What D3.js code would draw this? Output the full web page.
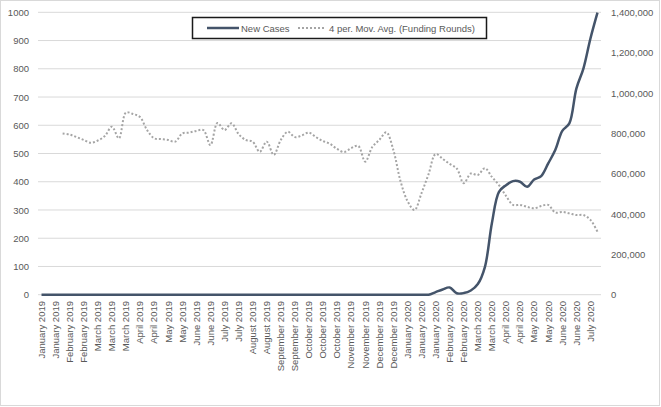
<!DOCTYPE html>
<html>
<head>
<meta charset="utf-8">
<script src="https://cdn.jsdelivr.net/npm/d3@7"></script>
<style>
  html, body { margin: 0; padding: 0; background: #fff; }
  svg text { font-family: "Liberation Sans", Arial, sans-serif; fill: #595959; }
</style>
</head>
<body>
<svg id="chart" width="661" height="407"></svg>
<script>
// ---- Data ----
const tickLabels = [
  "January 2019","January 2019","February 2019","February 2019","March 2019","March 2019","March 2019",
  "April 2019","April 2019","May 2019","May 2019","June 2019","June 2019","July 2019","July 2019",
  "August 2019","August 2019","September 2019","September 2019","October 2019","October 2019","October 2019",
  "November 2019","November 2019","December 2019","December 2019","January 2020","January 2020","January 2020",
  "February 2020","February 2020","March 2020","March 2020","April 2020","April 2020","May 2020","May 2020",
  "June 2020","June 2020","July 2020"
];
const weeks = d3.range(80); // weekly categories; every 2nd one is labelled

const newCases = [
  0,0,0,0,0,0,0,0,0,0, 0,0,0,0,0,0,0,0,0,0,
  0,0,0,0,0,0,0,0,0,0, 0,0,0,0,0,0,0,0,0,0,
  0,0,0,0,0,0,0,0,0,0, 0,0,0,0,0,0,
  13000,26000,36000,7000,8000,21000,53000,137000,355000,510000,
  543000,563000,560000,535000,571000,588000,651000,717000,812000,849000,
  1022000,1121000,1270000,1398000
];
const movAvgFunding = [
  null,null,null,
  571,567,558,548,538,546,562,595,554,645,
  640,629,583,554,551,548,542,571,574,580,
  583,530,608,583,607,569,548,542,506,542,
  495,548,577,558,564,574,558,544,534,516,
  505,519,527,471,523,548,575,512,403,332,
  300,360,427,498,481,463,447,395,429,424,
  448,417,388,350,318,318,311,306,314,318,
  291,293,288,282,282,265,223
];
const leftTicks = [0,100,200,300,400,500,600,700,800,900,1000];
const rightTicks = [0,200000,400000,600000,800000,1000000,1200000,1400000];

// ---- Layout ----
const svg = d3.select("#chart");
const plot = { left: 38, right: 601, top: 12.3, bottom: 294.7 };

svg.append("rect").attr("x",0.5).attr("y",0.5).attr("width",659).attr("height",405)
  .attr("fill","#fff").attr("stroke","#d9d9d9");

const x = d3.scaleBand().domain(weeks).range([plot.left, plot.right]).padding(0);
const cx = i => x(i) + x.bandwidth()/2;
const yL = d3.scaleLinear().domain([0,1000]).range([plot.bottom, plot.top]);
const yR = d3.scaleLinear().domain([0,1400000]).range([plot.bottom, plot.top]);

// gridlines
svg.append("g").selectAll("line").data(leftTicks).join("line")
  .attr("x1", plot.left).attr("x2", plot.right)
  .attr("y1", d => yL(d)).attr("y2", d => yL(d))
  .attr("stroke", "#d9d9d9").attr("stroke-width", 1);

// left axis
const leftAxis = svg.append("g").attr("transform", `translate(${plot.left},0)`)
  .call(d3.axisLeft(yL).tickValues(leftTicks).tickFormat(d3.format("d")).tickSize(0).tickPadding(9));
leftAxis.select(".domain").remove();
leftAxis.selectAll("text").style("font-size","9.5px").attr("fill","#595959");

// right axis
const rightAxis = svg.append("g").attr("transform", `translate(${plot.right},0)`)
  .call(d3.axisRight(yR).tickValues(rightTicks).tickFormat(d3.format(",")).tickSize(0).tickPadding(10));
rightAxis.select(".domain").remove();
rightAxis.selectAll("text").style("font-size","9.5px").attr("fill","#595959");

// x labels (every 2nd category)
const labelled = weeks.filter(i => i % 2 === 0);
svg.append("g").selectAll("text").data(labelled).join("text")
  .attr("transform", i => `translate(${cx(i)},301) rotate(-90)`)
  .attr("dy", "0.35em")
  .attr("text-anchor", "end")
  .style("font-size", "9.5px")
  .text((i, k) => tickLabels[k]);

// lines
const curve = d3.curveCatmullRom.alpha(0.5);
const lineAvg = d3.line()
  .defined(d => d.v !== null)
  .x(d => cx(d.i)).y(d => yL(d.v)).curve(curve);
svg.append("path")
  .datum(weeks.map(i => ({i, v: movAvgFunding[i]})))
  .attr("d", lineAvg)
  .attr("fill","none").attr("stroke","#a5a5a5").attr("stroke-width",2)
  .attr("stroke-dasharray","2,2");

const lineCases = d3.line()
  .x(d => cx(d.i)).y(d => yR(d.v)).curve(curve);
svg.append("path")
  .datum(weeks.map(i => ({i, v: newCases[i]})))
  .attr("d", lineCases)
  .attr("fill","none").attr("stroke","#44546a").attr("stroke-width",2.5)
  .attr("stroke-linejoin","round");

// legend
const lg = svg.append("g");
lg.append("rect").attr("x",192.5).attr("y",17.5).attr("width",294).attr("height",21)
  .attr("fill","#fff").attr("stroke","#1a1a1a").attr("stroke-width",1.5);
lg.append("line").attr("x1",207).attr("x2",239).attr("y1",28).attr("y2",28)
  .attr("stroke","#44546a").attr("stroke-width",2.5);
lg.append("text").attr("x",241).attr("y",31.5).style("font-size","9.5px").text("New Cases");
lg.append("line").attr("x1",298).attr("x2",326).attr("y1",28).attr("y2",28)
  .attr("stroke","#a5a5a5").attr("stroke-width",2).attr("stroke-dasharray","2,2");
lg.append("text").attr("x",329).attr("y",31.5).style("font-size","9.5px")
  .text("4 per. Mov. Avg. (Funding Rounds)");
</script>
</body>
</html>
